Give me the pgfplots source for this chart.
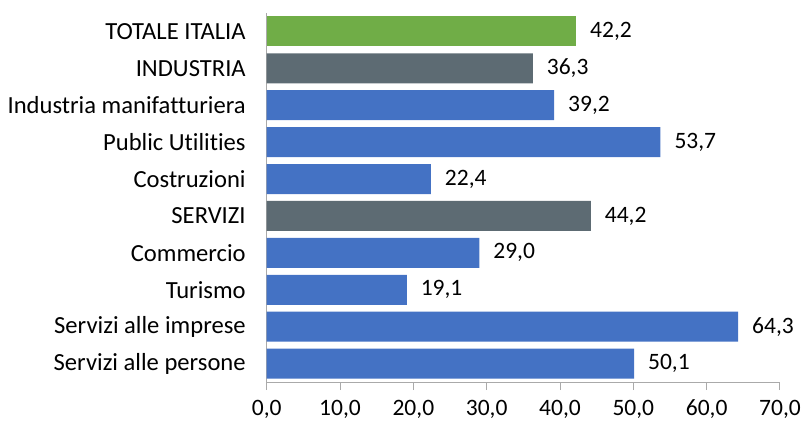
\documentclass[border=0pt]{standalone}
\usepackage{pgfplots}
\pgfplotsset{compat=1.18}
\usepackage{fontspec}
\setmainfont[Ligatures={NoCommon,NoRequired,NoContextual}]{Carlito}
\definecolor{cgreen}{RGB}{112,173,71}
\definecolor{cgray}{RGB}{93,107,115}
\definecolor{cblue}{RGB}{68,114,196}
\definecolor{caxis}{RGB}{170,170,170}
\begin{document}
\fontsize{23.5}{28}\selectfont
\begin{tikzpicture}
\path[use as bounding box] (-266.7pt,-42pt) rectangle (538.3pt,382pt);
\begin{axis}[
  at={(0,0)}, anchor=south west,
  scale only axis, width=513.3pt, height=369pt,
  xmin=0, xmax=70, ymin=-0.5, ymax=9.5,
  axis x line*=bottom, axis y line*=left,
  axis line style={caxis, line width=1pt},
  xtick={0,10,...,70},
  ytick={0,...,9},
  minor ytick={-0.5,0.5,...,9.5},
  yticklabels={Servizi alle persone\hspace{3pt}, Servizi alle imprese, Turismo\hspace{5pt}, Commercio\hspace{6pt}, SERVIZI, Costruzioni\hspace{7pt}, Public Utilities, Industria manifatturiera, INDUSTRIA\hspace{20pt}, TOTALE ITALIA\hspace{3pt}},
  tick align=outside,
  major tick length=8pt, minor tick length=7pt,
  ytick style={draw=none},
  minor y tick style={caxis, line width=1pt},
  xtick style={caxis, line width=1pt},
  /pgf/number format/.cd, use comma, fixed, fixed zerofill, precision=1, assume math mode=true, /pgfplots/.cd,
  xticklabel style={font=\fontsize{23.5}{28}\selectfont, yshift=-2pt},
  yticklabel style={font=\fontsize{24.6}{29}\selectfont, xshift=-5pt},
  xbar, bar width=30pt, bar shift=0pt,
  nodes near coords,
  nodes near coords style={font=\fontsize{23.5}{28}\selectfont, anchor=west, xshift=6pt},
  every axis plot/.append style={draw=none},
  clip=false,
]
\addplot[fill=cblue] coordinates {(50.1,0) (64.3,1) (19.1,2) (29.0,3) (22.4,5) (53.7,6) (39.2,7)};
\addplot[fill=cgray] coordinates {(44.2,4) (36.3,8)};
\addplot[fill=cgreen] coordinates {(42.2,9)};
\end{axis}
\end{tikzpicture}
\end{document}
